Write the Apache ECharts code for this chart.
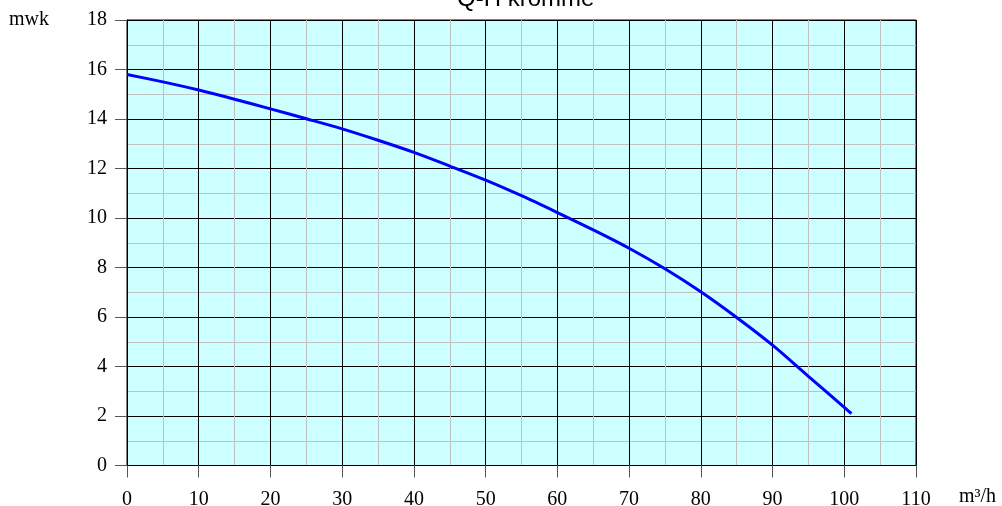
<!DOCTYPE html>
<html>
<head>
<meta charset="utf-8">
<style>html,body{margin:0;padding:0;background:#fff;}#c{width:1002px;height:506px;}</style>
<script src="https://cdn.jsdelivr.net/npm/echarts@6/dist/echarts.min.js"></script>
</head>
<body>
<div id="c"></div>
<script>
var flow = [0, 5, 10, 15, 20, 25, 30, 35, 40, 45, 50, 55, 60, 65, 70, 75, 80, 85, 90, 95, 101];
var head = [15.8, 15.5, 15.17, 14.8, 14.41, 14.01, 13.6, 13.14, 12.65, 12.1, 11.53, 10.9, 10.22, 9.52, 8.78, 7.95, 7.02, 5.98, 4.86, 3.6, 2.1];
var titleText = 'Q-H kromme';
var xName = 'm³/h';
var yName = 'mwk';

var chart = echarts.init(document.getElementById('c'), null, {renderer: 'canvas'});
var serif = '"Liberation Serif", "Times New Roman", serif';
chart.setOption({
  animation: false,
  backgroundColor: '#ffffff',
  grid: {left: 127, top: 20, right: 86, bottom: 40.5, outerBoundsMode: 'none', containLabel: false, show: true, backgroundColor: '#ccffff', borderColor: '#000', borderWidth: 1},
  xAxis: {
    type: 'value', min: 0, max: 110, interval: 10,
    axisLine: {show: true, lineStyle: {color: '#000', width: 1}},
    axisTick: {show: true, inside: false, length: 12, lineStyle: {color: '#555'}},
    minorTick: {show: false, splitNumber: 2},
    splitLine: {show: true, lineStyle: {color: '#000', width: 1}},
    minorSplitLine: {show: true, lineStyle: {color: '#c0c0c0', width: 1}},
    axisLabel: {color: '#000', fontFamily: serif, fontSize: 20, margin: 24}
  },
  yAxis: {
    type: 'value', min: 0, max: 18, interval: 2,
    axisLine: {show: true, lineStyle: {color: '#000', width: 1}},
    axisTick: {show: true, inside: false, length: 12, lineStyle: {color: '#555'}},
    minorTick: {show: false, splitNumber: 2},
    splitLine: {show: true, lineStyle: {color: '#000', width: 1}},
    minorSplitLine: {show: true, lineStyle: {color: '#c0c0c0', width: 1}},
    axisLabel: {color: '#000', fontFamily: serif, fontSize: 20, margin: 20}
  },
  graphic: [
    {type: 'text', left: 457, top: -13, style: {text: titleText, font: '24px "Liberation Sans", Arial, sans-serif', fill: '#000'}},
    {type: 'text', left: 9, top: 10, style: {text: yName, font: '20px ' + serif, fill: '#000'}},
    {type: 'text', left: 959, top: 487, style: {text: xName, font: '20px ' + serif, fill: '#000'}}
  ],
  series: [{
    type: 'line', smooth: 0.3, symbol: 'none',
    data: flow.map(function (f, i) { return [f, head[i]]; }),
    lineStyle: {color: '#0000ff', width: 3}
  }]
});
</script>
</body>
</html>
